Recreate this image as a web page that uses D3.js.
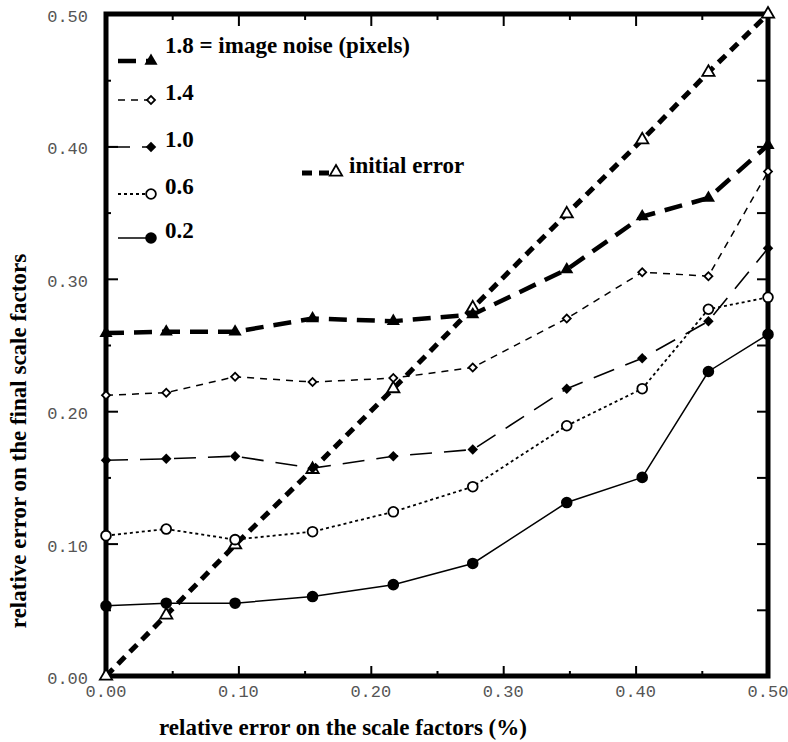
<!DOCTYPE html>
<html>
<head>
<meta charset="utf-8">
<script src="https://cdn.jsdelivr.net/npm/d3@7"></script>
<style>
  body { margin: 0; background: #fff; }
  .tick-label { font-family: "Liberation Mono", "DejaVu Sans Mono", monospace; font-size: 17px; fill: #555; }
  .title, .legend-text { font-family: "Liberation Serif", "Times New Roman", serif; font-weight: bold; font-size: 23px; fill: #000; }
</style>
</head>
<body>
<div id="chart"></div>
<script>
// data
const xValues = [0, 0.0455, 0.0975, 0.156, 0.217, 0.277, 0.348, 0.405, 0.455, 0.5];
const initialError = [0, 0.046, 0.099, 0.156, 0.217, 0.278, 0.349, 0.405, 0.456, 0.500];
const noise18 = [0.259, 0.260, 0.260, 0.270, 0.268, 0.273, 0.307, 0.347, 0.361, 0.401];
const noise14 = [0.212, 0.214, 0.226, 0.222, 0.225, 0.233, 0.270, 0.305, 0.302, 0.381];
const noise10 = [0.163, 0.164, 0.166, 0.157, 0.166, 0.171, 0.217, 0.240, 0.268, 0.323];
const noise06 = [0.106, 0.111, 0.103, 0.109, 0.124, 0.143, 0.189, 0.217, 0.277, 0.286];
const noise02 = [0.053, 0.055, 0.055, 0.060, 0.069, 0.085, 0.131, 0.150, 0.230, 0.258];
const seriesLabels = ['1.8 = image noise (pixels)', '1.4', '1.0', '0.6', '0.2'];
const initialLabel = 'initial error';
const xTicks = [0, 0.1, 0.2, 0.3, 0.4, 0.5];
const yTicks = [0, 0.1, 0.2, 0.3, 0.4, 0.5];
const xTitle = 'relative error on the scale factors (%)';
const yTitle = 'relative error on the final scale factors';

const width = 788, height = 742;
const plotLeft = 106, plotRight = 768, plotTop = 14, plotBottom = 676;

const svg = d3.select('#chart').append('svg')
    .attr('width', width)
    .attr('height', height);

const x = d3.scaleLinear().domain([0, 0.5]).range([plotLeft, plotRight]);
const y = d3.scaleLinear().domain([0, 0.5]).range([plotBottom, plotTop]);

// symbol builders
const tri = s => d3.symbol().type(d3.symbolTriangle).size(s)();
const sq = s => d3.symbol().type(d3.symbolSquare).size(s)();
const circ = s => d3.symbol().type(d3.symbolCircle).size(s)();

// one style per curve
const series = [
    { values: noise18, label: seriesLabels[0], width: 4.5, dash: '18,10', marker: tri(75), fill: '#000', rot: 0, lw: 0 },
    { values: noise14, label: seriesLabels[1], width: 1.5, dash: '7,6', marker: sq(32), fill: '#fff', rot: 45, lw: 1.8 },
    { values: noise10, label: seriesLabels[2], width: 1.6, dash: '22,12', marker: sq(55), fill: '#000', rot: 45, lw: 0 },
    { values: noise06, label: seriesLabels[3], width: 1.8, dash: '3,3', marker: circ(75), fill: '#fff', rot: 0, lw: 1.8 },
    { values: noise02, label: seriesLabels[4], width: 1.5, dash: null, marker: circ(105), fill: '#000', rot: 0, lw: 0 }
];
const initial = { values: initialError, label: initialLabel, width: 5, dash: '10,7', marker: tri(65), fill: '#fff', rot: 0, lw: 1.8 };

// frame
svg.append('rect')
    .attr('x', plotLeft).attr('y', plotTop)
    .attr('width', plotRight - plotLeft).attr('height', plotBottom - plotTop)
    .attr('fill', 'none').attr('stroke', '#000').attr('stroke-width', 5);

// inward ticks with d3 axes
const xMinor = d3.range(0.05, 0.5, 0.1);
const yMinor = d3.range(0.05, 0.5, 0.1);
function tickLines(g) { g.select('.domain').remove(); g.selectAll('line').attr('stroke', '#000').attr('stroke-width', 2); g.selectAll('text').remove(); }

svg.append('g').attr('transform', `translate(0,${plotBottom})`)
    .call(d3.axisTop(x).tickValues(xTicks.slice(1, -1)).tickSize(10)).call(tickLines);
svg.append('g').attr('transform', `translate(0,${plotBottom})`)
    .call(d3.axisTop(x).tickValues(xMinor).tickSize(5)).call(tickLines);
svg.append('g').attr('transform', `translate(0,${plotTop})`)
    .call(d3.axisBottom(x).tickValues(xTicks.slice(1, -1)).tickSize(12)).call(tickLines);
svg.append('g').attr('transform', `translate(0,${plotTop})`)
    .call(d3.axisBottom(x).tickValues(xMinor).tickSize(6)).call(tickLines);
svg.append('g').attr('transform', `translate(${plotLeft},0)`)
    .call(d3.axisRight(y).tickValues(yTicks.slice(1, -1)).tickSize(12)).call(tickLines);
svg.append('g').attr('transform', `translate(${plotLeft},0)`)
    .call(d3.axisRight(y).tickValues(yMinor).tickSize(5)).call(tickLines);
svg.append('g').attr('transform', `translate(${plotRight},0)`)
    .call(d3.axisLeft(y).tickValues(d3.range(0.05, 0.5, 0.05)).tickSize(11)).call(tickLines);

// tick labels
svg.selectAll('.xl').data(xTicks).enter().append('text')
    .attr('class', 'tick-label')
    .attr('x', d => x(d)).attr('y', plotBottom + 21)
    .attr('text-anchor', 'middle')
    .text(d => d.toFixed(2));
svg.selectAll('.yl').data(yTicks).enter().append('text')
    .attr('class', 'tick-label')
    .attr('x', 88).attr('y', d => y(d) + 8)
    .attr('text-anchor', 'end')
    .text(d => d.toFixed(2));

// axis titles
svg.append('text').attr('class', 'title')
    .attr('x', 343).attr('y', 735)
    .attr('text-anchor', 'middle')
    .text(xTitle);
svg.append('text').attr('class', 'title')
    .attr('transform', 'translate(26,441) rotate(-90)')
    .attr('text-anchor', 'middle')
    .text(yTitle);

// curves
const line = d3.line().x((d, i) => x(xValues[i])).y(d => y(d));
const all = [initial].concat(series);
all.forEach(s => {
    svg.append('path')
        .attr('d', line(s.values))
        .attr('fill', 'none')
        .attr('stroke', '#000')
        .attr('stroke-width', s.width)
        .attr('stroke-dasharray', s.dash);
});
all.forEach(s => {
    svg.selectAll(null).data(s.values).enter().append('path')
        .attr('d', s.marker)
        .attr('transform', (d, i) => `translate(${x(xValues[i])},${y(d)}) rotate(${s.rot})`)
        .attr('fill', s.fill)
        .attr('stroke', '#000')
        .attr('stroke-width', s.lw);
});

// legend
const legendY = [61, 100, 147, 194, 238];
const legendStart = [118, 118, 108, 118, 118];
series.forEach((s, i) => {
    const ly = legendY[i];
    svg.append('line')
        .attr('x1', legendStart[i]).attr('x2', 150)
        .attr('y1', ly).attr('y2', ly)
        .attr('stroke', '#000').attr('stroke-width', s.width)
        .attr('stroke-dasharray', s.dash);
    svg.append('path').attr('d', s.marker)
        .attr('transform', `translate(151,${ly}) rotate(${s.rot})`)
        .attr('fill', s.fill).attr('stroke', '#000').attr('stroke-width', s.lw);
    svg.append('text').attr('class', 'legend-text')
        .attr('x', 165).attr('y', i === 0 ? 53 : ly)
        .text(s.label);
});
svg.append('line')
    .attr('x1', 302).attr('x2', 335)
    .attr('y1', 173).attr('y2', 173)
    .attr('stroke', '#000').attr('stroke-width', initial.width)
    .attr('stroke-dasharray', initial.dash);
svg.append('path').attr('d', initial.marker)
    .attr('transform', 'translate(336,172)')
    .attr('fill', initial.fill).attr('stroke', '#000').attr('stroke-width', initial.lw);
svg.append('text').attr('class', 'legend-text')
    .attr('x', 349).attr('y', 173)
    .text(initial.label);
</script>
</body>
</html>
